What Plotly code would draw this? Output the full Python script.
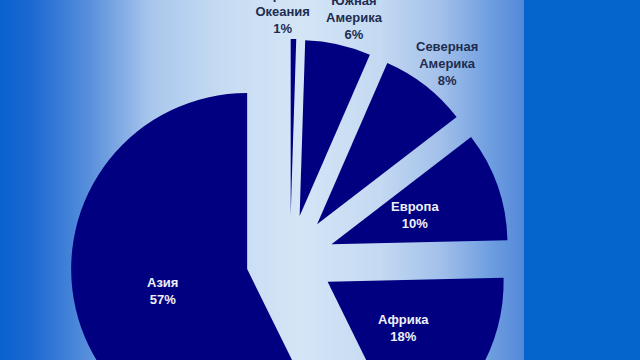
import numpy as np
import plotly.graph_objects as go

# ---- data ----
regions = ["Австралия и<br>Океания", "Южная<br>Америка", "Северная<br>Америка",
           "Европа", "Африка", "Азия"]
shares = [0.5, 6, 8, 10, 18, 57]
total = sum(shares)
pct_text = [f"{round(v / total * 100)}%" for v in shares]

# ---- style ----
W, H = 640, 480
SLICE = "#000080"
FONT = "Liberation Sans, Arial"
bg_stops = [
    (0, "#0a62d0"), (30, "#1a68d2"), (90, "#5a90dc"), (150, "#a8c6ec"),
    (220, "#c6dbf2"), (300, "#d4e5f6"), (380, "#c4d9f2"), (440, "#a2c0ea"),
    (490, "#6e9ee0"), (523, "#5488da"), (524, "#0565cd"), (639, "#0565cd"),
]
colorscale = [[p / 639, c] for p, c in bg_stops]
# label anchor points (pixels from top-left) and colours
label_anchor = [(282, 11), (354, 17), (446, 63), (414, 215), (403, 328), (162, 291)]
label_color = ["#1e2d4f", "#1e2d4f", "#1e2d4f", "#eef0fa", "#eef0fa", "#eef0fa"]

fig = go.Figure()

# background gradient
xs = np.arange(640)
fig.add_trace(go.Heatmap(
    x=xs, y=[0, H], z=[xs, xs], colorscale=colorscale, showscale=False,
    hoverinfo="skip", zmin=0, zmax=639,
))

fig.add_trace(go.Pie(
    labels=regions, values=shares, sort=False, direction="clockwise", rotation=0,
    pull=0.25, automargin=False, textinfo="none",
    marker=dict(colors=[SLICE] * len(shares), line=dict(width=0)),
    domain=dict(x=[70 / W, 510 / W], y=[1 - 479 / H, 1 - 39 / H]),
    showlegend=False, hoverinfo="skip",
))

for name, pct, (ax, ay), col in zip(regions, pct_text, label_anchor, label_color):
    fig.add_annotation(
        x=ax, y=ay, xref="x", yref="y", showarrow=False,
        text=f"{name}<br>{pct}", align="center",
        font=dict(family=FONT, size=13, color=col, weight="bold"),
    )

fig.update_layout(
    width=W, height=H, margin=dict(l=0, r=0, t=0, b=0, autoexpand=False),
    paper_bgcolor="#0565cd", plot_bgcolor="#0565cd",
    xaxis=dict(visible=False, range=[-0.5, 639.5], domain=[0, 1], fixedrange=True),
    yaxis=dict(visible=False, range=[H, 0], domain=[0, 1], fixedrange=True),
    font=dict(family=FONT),
)

fig.write_html("out.html")
